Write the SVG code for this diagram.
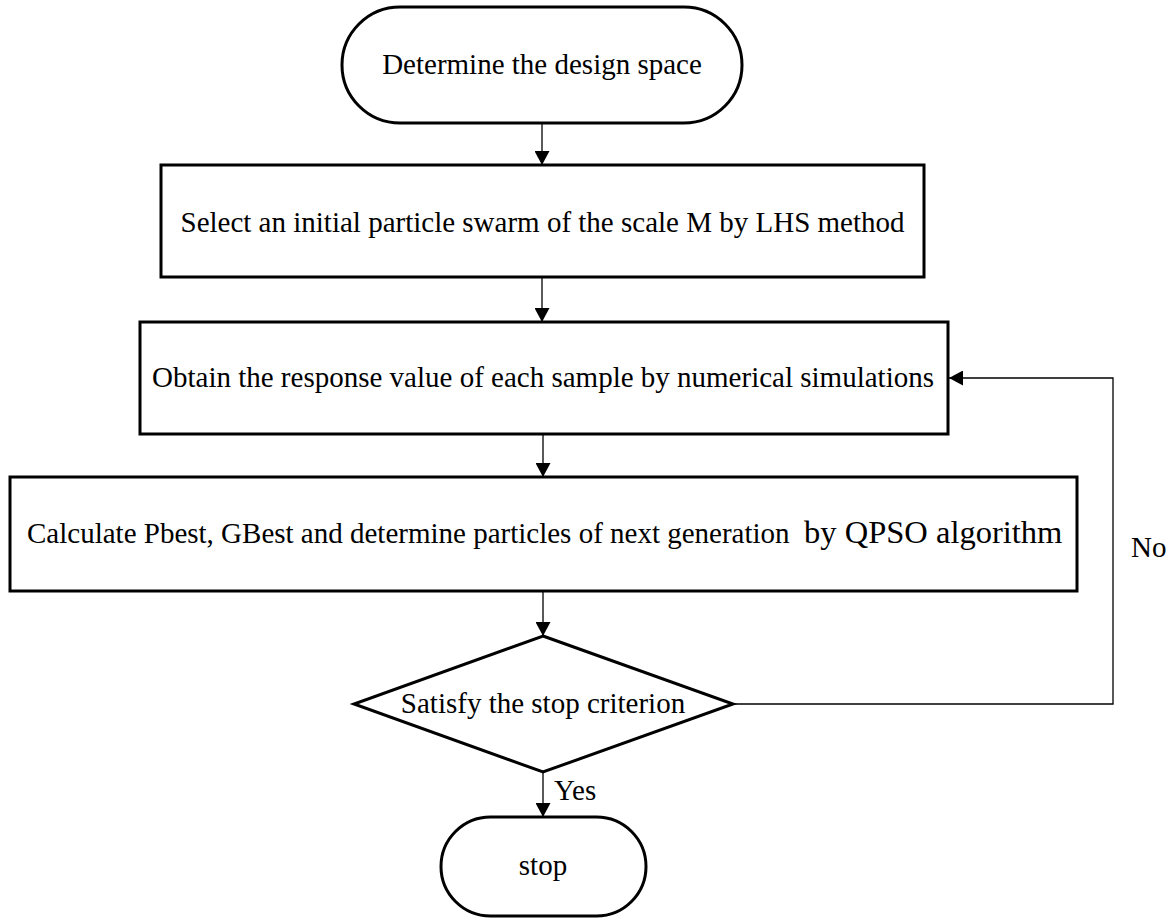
<svg xmlns="http://www.w3.org/2000/svg" width="1172" height="918" viewBox="0 0 1172 918">
<defs>
<marker id="arrow" markerUnits="userSpaceOnUse" markerWidth="15" markerHeight="15" refX="14" refY="7.5" orient="auto">
<path d="M0,0 L14,7.5 L0,15 z" fill="#000"/>
</marker>
<style>
.node{fill:#fff;stroke:#000;stroke-width:3}
.conn{fill:none;stroke:#000;stroke-width:1.3}
.lbl{font-family:"Liberation Serif","Times New Roman",serif;font-size:29px;fill:#000}
.mid{text-anchor:middle}
</style>
</defs>
<rect width="1172" height="918" fill="#fff"/>
<g id="connectors">
<line class="conn" x1="542" y1="123" x2="542" y2="165" marker-end="url(#arrow)"/>
<line class="conn" x1="542" y1="277" x2="542" y2="322" marker-end="url(#arrow)"/>
<line class="conn" x1="543" y1="434" x2="543" y2="477" marker-end="url(#arrow)"/>
<line class="conn" x1="543" y1="591" x2="543" y2="636" marker-end="url(#arrow)"/>
<line class="conn" x1="543" y1="772" x2="543" y2="817" marker-end="url(#arrow)"/>
<polyline class="conn" points="733,704 1113,704 1113,378 949,378" marker-end="url(#arrow)"/>
<text class="lbl" x="554" y="800">Yes</text>
<text class="lbl" x="1131" y="557">No</text>
</g>
<g id="start">
<rect class="node" x="342" y="7" width="400" height="116" rx="58" ry="58"/>
<text class="lbl mid" x="542" y="74">Determine the design space</text>
</g>
<g id="select">
<rect class="node" x="161" y="165" width="763" height="112"/>
<text class="lbl mid" x="542.5" y="232">Select an initial particle swarm of the scale M by LHS method</text>
</g>
<g id="obtain">
<rect class="node" x="140" y="322" width="808" height="112"/>
<text class="lbl mid" x="543" y="387">Obtain the response value of each sample by numerical simulations</text>
</g>
<g id="calculate">
<rect class="node" x="10" y="477" width="1067" height="114"/>
<text class="lbl" x="27" y="543" xml:space="preserve">Calculate Pbest, GBest and determine particles of next generation  <tspan font-size="32.5">by QPSO algorithm</tspan></text>
</g>
<g id="decision">
<polygon class="node" points="543,636 733,704 543,772 354,704"/>
<text class="lbl mid" x="543" y="713">Satisfy the stop criterion</text>
</g>
<g id="stop">
<rect class="node" x="441" y="817" width="205" height="99" rx="49.5" ry="49.5"/>
<text class="lbl mid" x="543" y="875">stop</text>
</g>
</svg>
